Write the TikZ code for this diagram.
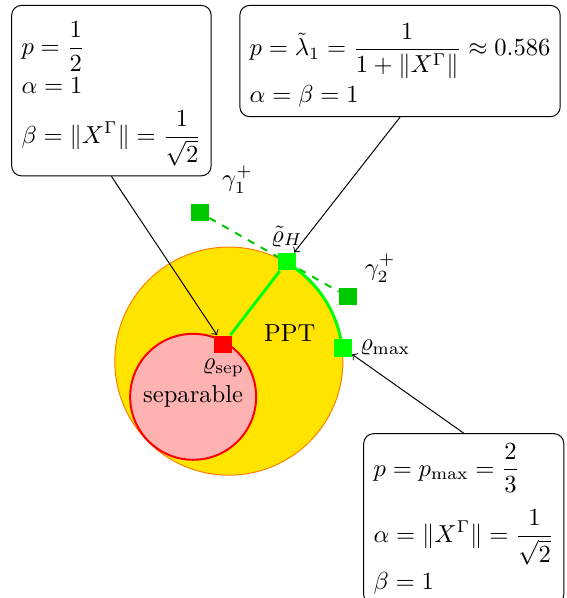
\documentclass[tikz,border=0pt]{standalone}
\usepackage{amsmath,amssymb}
\usetikzlibrary{positioning}

\definecolor{pptyellow}{RGB}{255,228,0}
\definecolor{lightgreen}{RGB}{0,255,0}
\definecolor{darkgreen}{RGB}{0,200,0}

\begin{document}
\begin{tikzpicture}[
    state/.style={rectangle, fill, minimum size=0.25cm, inner sep=0pt},
    info/.style={rectangle, draw, rounded corners, align=left, inner sep=4pt},
    tag/.style={inner sep=2pt},
  ]
  \useasboundingbox (0,0) rectangle (8.10,-8.545);

  % Sets
  \coordinate (ppt) at (3.27,-5.16);
  \coordinate (sepc) at (2.76,-5.67);
  \fill[pptyellow, draw=orange] (ppt) circle (1.63);
  \filldraw[fill=red!30, draw=red, thick] (sepc) circle (0.90);
  \node at (4.14,-4.76) {PPT};
  \node at (sepc) {separable};

  % States
  \node[state, red] (sep) at (3.19,-4.92) {};
  \node[state, darkgreen] (g1) at (2.86,-3.04) {};
  \node[state, darkgreen] (g2) at (4.97,-4.24) {};

  % Lines between states
  \draw[darkgreen, thick, dashed] (g1) -- (g2);
  \draw[lightgreen, very thick] (ppt) ++(59.6:1.63) arc[start angle=59.6, end angle=6.5, radius=1.63];
  \node[state, lightgreen] (H) at (4.10,-3.74) {};
  \node[state, lightgreen] (max) at (4.90,-4.97) {};
  \draw[lightgreen, very thick] (sep) -- (H);
  \node[state, red] at (sep) {};
  \node[state, darkgreen] at (g1) {};
  \node[state, darkgreen] at (g2) {};

  % State labels
  \node[tag, below=0pt of sep] (seplab) {$\varrho_{\text{sep}}$};
  \node[tag, above=0pt of H] (Hlab) {$\tilde{\varrho}_H$};
  \node[tag, right=1pt of max] (maxlab) {$\varrho_{\max}$};
  \node[tag, above right=2pt and 3pt of g1] (g1lab) {$\gamma_1^+$};
  \node[tag, above right=0pt and 1pt of g2] (g2lab) {$\gamma_2^+$};

  % Parameter boxes
  \node[info, anchor=north west] (box1) at (0.16,-0.07)
    {\rule{0pt}{16pt}$\displaystyle p=\frac{1}{2}$\\[1.5pt]
     $\alpha=1$\\[6pt]
     $\displaystyle \beta=\|X^\Gamma\|=\frac{1}{\sqrt{2}}$};
  \node[info, anchor=north west] (box2) at (3.42,-0.07)
    {\rule{0pt}{16.5pt}$\displaystyle p=\tilde{\lambda}_1=\frac{1}{1+\|X^\Gamma\|}\approx 0.586$\\[1.5pt]
     $\alpha=\beta=1$};
  \node[info, anchor=north west] (box3) at (5.19,-6.19)
    {$\displaystyle p=p_{\max}=\frac{2}{3}$\\[6pt]
     $\displaystyle \alpha=\|X^\Gamma\|=\frac{1}{\sqrt{2}}$\\[2pt]
     $\beta=1$};

  % Arrows
  \draw[->] (box1.south) -- (sep);
  \draw[->] (box2.south) -- (H);
  \draw[->] (box3.north) -- (max);
\end{tikzpicture}
\end{document}
